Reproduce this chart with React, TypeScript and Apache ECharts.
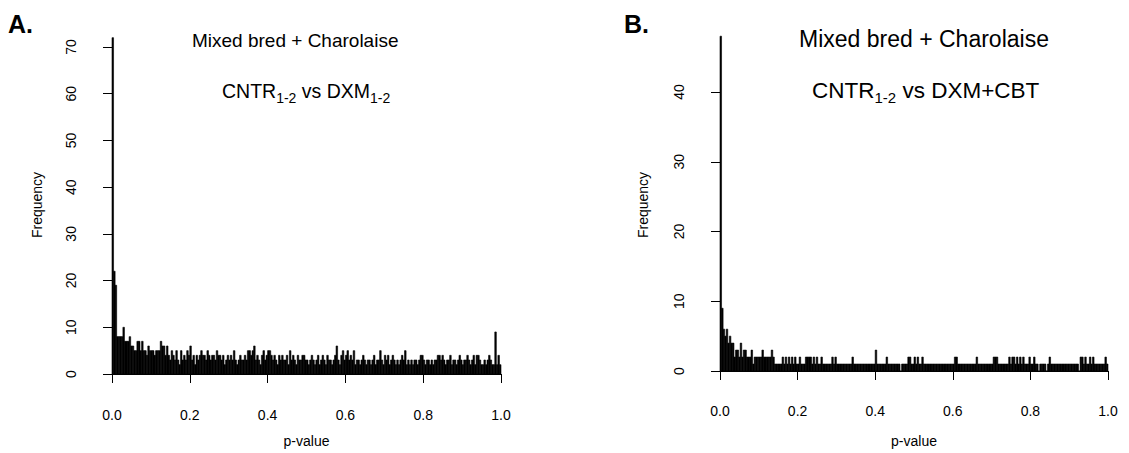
import React, { useEffect, useRef } from "react";
import * as echarts from "echarts";

// Histogram counts of p-values, 250 bins of width 0.004 on [0, 1]
const binWidth = 0.004;

const countsA: number[] = [
  72, 22, 19, 8, 8, 8, 8, 10, 7, 7,
  7, 8, 6, 6, 5, 5, 7, 7, 5, 7,
  5, 5, 4, 6, 5, 5, 5, 4, 5, 5,
  5, 7, 6, 6, 4, 6, 4, 3, 5, 4,
  3, 5, 3, 2, 5, 3, 4, 3, 5, 4,
  6, 3, 4, 2, 4, 3, 4, 5, 4, 4,
  3, 5, 4, 3, 4, 4, 3, 5, 4, 4,
  3, 4, 2, 3, 4, 3, 4, 3, 5, 3,
  2, 3, 4, 3, 3, 4, 3, 5, 5, 4,
  5, 6, 3, 4, 3, 2, 4, 5, 3, 4,
  5, 5, 4, 3, 4, 3, 2, 4, 3, 4,
  3, 3, 4, 2, 5, 3, 4, 3, 2, 4,
  3, 3, 4, 4, 3, 3, 2, 3, 4, 3,
  2, 3, 4, 2, 3, 4, 3, 2, 4, 3,
  3, 2, 3, 4, 6, 3, 2, 4, 5, 3,
  4, 5, 3, 4, 3, 5, 2, 3, 3, 2,
  3, 4, 3, 2, 3, 3, 2, 3, 4, 2,
  3, 3, 5, 3, 2, 4, 3, 4, 2, 3,
  4, 3, 2, 3, 2, 3, 4, 3, 5, 2,
  3, 2, 3, 2, 3, 3, 2, 3, 4, 4,
  3, 2, 3, 3, 2, 3, 2, 3, 3, 4,
  4, 3, 4, 3, 2, 3, 3, 4, 2, 3,
  3, 2, 3, 4, 3, 2, 3, 3, 4, 3,
  2, 3, 4, 2, 4, 4, 3, 2, 2, 3,
  2, 3, 4, 3, 2, 2, 9, 2, 4, 2,
];

const countsB: number[] = [
  48, 9, 6, 5, 6, 4, 5, 4, 4, 2,
  3, 3, 2, 4, 2, 3, 3, 2, 2, 2,
  3, 1, 2, 2, 2, 2, 2, 3, 2, 2,
  2, 2, 2, 3, 2, 1, 1, 1, 1, 1,
  2, 1, 2, 1, 2, 1, 2, 1, 2, 1,
  1, 2, 1, 1, 1, 2, 2, 2, 2, 1,
  2, 1, 2, 1, 1, 2, 1, 1, 1, 1,
  1, 1, 2, 1, 2, 1, 1, 1, 1, 1,
  1, 1, 1, 1, 1, 2, 1, 1, 1, 1,
  1, 1, 1, 1, 1, 1, 1, 1, 1, 1,
  3, 1, 1, 1, 1, 1, 1, 2, 1, 1,
  1, 1, 1, 1, 1, 1, 0, 1, 1, 1,
  1, 2, 2, 1, 1, 2, 1, 2, 1, 1,
  2, 1, 1, 1, 1, 1, 1, 1, 1, 1,
  1, 1, 1, 1, 1, 1, 1, 1, 1, 1,
  1, 2, 2, 1, 1, 1, 1, 1, 1, 1,
  1, 1, 1, 1, 1, 2, 1, 1, 1, 1,
  1, 1, 1, 1, 1, 1, 2, 2, 2, 1,
  1, 1, 1, 1, 1, 1, 2, 1, 2, 2,
  1, 2, 1, 2, 1, 2, 1, 1, 1, 2,
  1, 1, 2, 1, 1, 0, 1, 1, 1, 1,
  0, 1, 2, 1, 1, 1, 1, 1, 1, 1,
  1, 1, 1, 1, 1, 1, 1, 1, 1, 1,
  1, 0, 2, 2, 1, 2, 1, 1, 2, 1,
  2, 1, 1, 1, 1, 1, 1, 1, 2, 1,
];

const yMaxA = 70;
const yMaxB = 40;
const yStep = 10;
const xStep = 0.2;

const FONT = "'Liberation Sans', Arial, Helvetica, sans-serif";

function toBins(counts: number[]) {
  return counts.map((c, i) => [i * binWidth, (i + 1) * binWidth, c]);
}

function renderItem(_params: any, api: any) {
  const x0 = api.value(0);
  const x1 = api.value(1);
  const v = api.value(2);
  const p0 = api.coord([x0, 0]);
  const p1 = api.coord([x1, v]);
  return {
    type: "rect",
    shape: {
      x: p0[0],
      y: p1[1],
      width: p1[0] - p0[0],
      height: p0[1] - p1[1],
    },
    style: { fill: "#000", stroke: "#000", lineWidth: 0.6 },
  };
}

function xAxisCfg(gridIndex: number, offset: number, nameGap: number) {
  return {
    type: "value",
    gridIndex,
    min: 0,
    max: 1,
    interval: xStep,
    offset,
    name: "p-value",
    nameLocation: "middle",
    nameGap,
    nameTextStyle: { fontSize: 14, color: "#000", fontFamily: FONT },
    axisLine: { show: true, lineStyle: { color: "#000", width: 1 } },
    axisTick: { show: true, length: 9, lineStyle: { color: "#000", width: 1 } },
    axisLabel: {
      fontSize: 14,
      color: "#000",
      fontFamily: FONT,
      margin: 20,
      formatter: (v: number) => v.toFixed(1),
    },
    splitLine: { show: false },
  };
}

function yAxisCfg(gridIndex: number, max: number) {
  return {
    type: "value",
    gridIndex,
    min: 0,
    max,
    interval: yStep,
    offset: 15,
    axisLine: { show: true, lineStyle: { color: "#000", width: 1 } },
    axisTick: { show: true, length: 9, lineStyle: { color: "#000", width: 1 } },
    axisLabel: {
      fontSize: 14,
      color: "#000",
      fontFamily: FONT,
      rotate: 90,
      margin: 19,
    },
    splitLine: { show: false },
  };
}

function plainText(x: number, y: number, text: string, fontSize: number, bold = false) {
  return {
    type: "text",
    x,
    y,
    style: {
      text,
      fontSize,
      fontWeight: bold ? "bold" : "normal",
      fontFamily: FONT,
      fill: "#000",
      align: "left",
      verticalAlign: "top",
    },
  };
}

let measureCtx: CanvasRenderingContext2D | null = null;
function measure(text: string, fs: number): number {
  if (!measureCtx) {
    const c = document.createElement("canvas");
    measureCtx = c.getContext("2d");
  }
  if (!measureCtx) return text.length * fs * 0.55;
  measureCtx.font = `${fs}px 'Liberation Sans', Arial, sans-serif`;
  return measureCtx.measureText(text).width;
}

// Title with subscripts: parts alternate between main text and subscript text
function subTitle(x: number, yTop: number, parts: string[], fs: number, sfs: number, drop: number) {
  const els: any[] = [];
  let cx = x;
  parts.forEach((p, i) => {
    const isSub = i % 2 === 1;
    const size = isSub ? sfs : fs;
    // align the subscript baseline 'drop' px below the main baseline
    const y = isSub ? yTop + 0.85 * fs + drop - 0.85 * sfs : yTop;
    els.push(plainText(cx, y, p, size));
    cx += measure(p, size);
  });
  return els;
}

function freqLabel(x: number, y: number) {
  return {
    type: "text",
    x,
    y,
    rotation: Math.PI / 2,
    style: {
      text: "Frequency",
      fontSize: 14,
      fontFamily: FONT,
      fill: "#000",
      align: "center",
      verticalAlign: "middle",
    },
  };
}

export default function App() {
  const ref = useRef<HTMLDivElement>(null);

  useEffect(() => {
    if (!ref.current) return;
    const chart = echarts.init(ref.current, undefined, { renderer: "svg" });
    chart.setOption({
      animation: false,
      backgroundColor: "#fff",
      grid: [
        { left: 112, top: 47, width: 389, height: 327 },
        { left: 720, top: 92, width: 388, height: 280 },
      ],
      xAxis: [xAxisCfg(0, 14, 46), xAxisCfg(1, 13, 50)],
      yAxis: [yAxisCfg(0, yMaxA), yAxisCfg(1, yMaxB)],
      series: [
        {
          type: "custom",
          xAxisIndex: 0,
          yAxisIndex: 0,
          clip: false,
          renderItem,
          encode: { x: [0, 1], y: 2 },
          data: toBins(countsA),
        },
        {
          type: "custom",
          xAxisIndex: 1,
          yAxisIndex: 1,
          clip: false,
          renderItem,
          encode: { x: [0, 1], y: 2 },
          data: toBins(countsB),
        },
      ],
      graphic: [
        plainText(8, 11, "A.", 25, true),
        plainText(624, 11, "B.", 25, true),
        plainText(192, 31, "Mixed bred + Charolaise", 19),
        ...subTitle(222, 81, ["CNTR", "1-2", " vs DXM", "1-2"], 19.5, 14, 5),
        plainText(799, 27, "Mixed bred + Charolaise", 23),
        ...subTitle(812, 79, ["CNTR", "1-2", " vs DXM+CBT"], 22.5, 15, 5),
        freqLabel(37, 205),
        freqLabel(643, 205),
      ],
    });
    return () => chart.dispose();
  }, []);

  return (
    <div
      ref={ref}
      style={{ position: "fixed", left: 0, top: 0, width: 1129, height: 453, background: "#fff" }}
    />
  );
}
